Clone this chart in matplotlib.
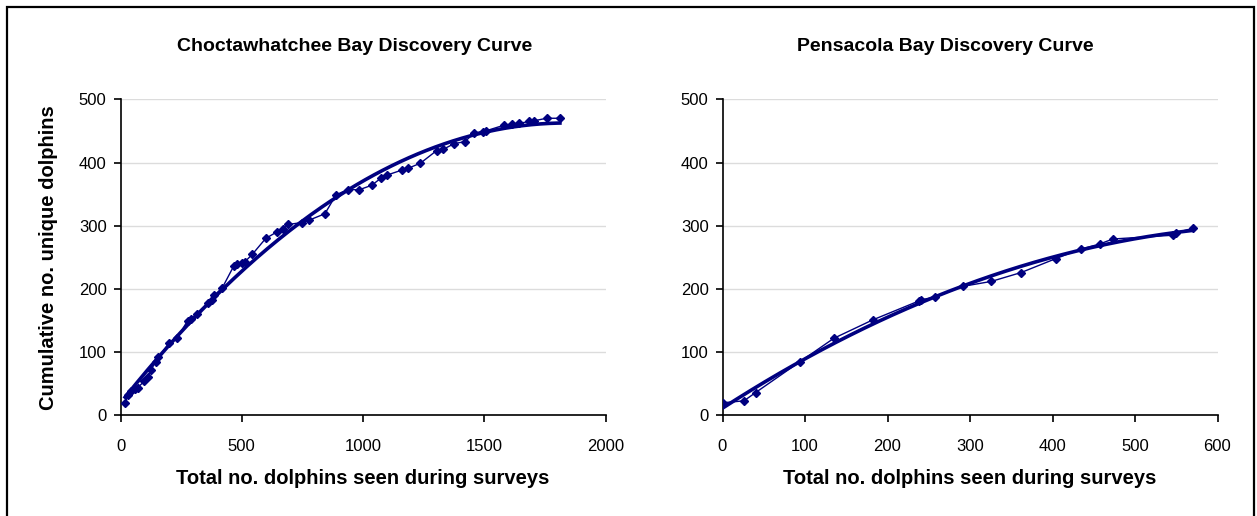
import matplotlib
matplotlib.use("Agg")
import matplotlib.pyplot as plt
import numpy as np
from matplotlib.patches import Rectangle

plt.rcParams['font.family'] = ['Liberation Sans', 'DejaVu Sans']

# Choctawhatchee Bay: total seen vs cumulative unique
choc_x = [19, 32, 45, 60, 71, 98, 115, 126, 145, 156, 200, 233, 277, 291, 314,
          360, 376, 387, 420, 468, 479, 500, 513, 544, 599, 644, 671, 692, 747,
          779, 843, 889, 937, 985, 1036, 1073, 1098, 1160, 1187, 1237, 1304,
          1331, 1377, 1421, 1458, 1496, 1506, 1581, 1616, 1645, 1686, 1705,
          1757, 1812]
choc_y = [20, 33, 38, 42, 44, 54, 61, 72, 85, 92, 114, 122, 150, 153, 161,
          178, 182, 190, 202, 237, 239, 241, 243, 255, 280, 290, 295, 302, 305,
          309, 319, 349, 357, 357, 364, 375, 380, 388, 391, 399, 419,
          421, 430, 433, 447, 449, 450, 459, 461, 462, 465, 466,
          470, 470]

# Pensacola Bay
pens_x = [0, 26, 40, 94, 135, 182, 238, 241, 257, 291, 326, 362, 404, 434,
          457, 473, 546, 550, 570]
pens_y = [20, 23, 36, 85, 122, 151, 181, 183, 187, 204, 212, 226, 248, 263,
          271, 279, 285, 289, 296]

titles = ["Choctawhatchee Bay Discovery Curve", "Pensacola Bay Discovery Curve"]
xlabel = "Total no. dolphins seen during surveys"
ylabel = "Cumulative no. unique dolphins"
navy = "#000080"

W, H = 1257, 516
fig = plt.figure(figsize=(W / 100, H / 100), dpi=100)

def px_axes(x0, x1, y_top, y_bot):
    return fig.add_axes([x0 / W, 1 - y_bot / H, (x1 - x0) / W, (y_bot - y_top) / H])

ax1 = px_axes(120.5, 605.5, 99.3, 415.4)
ax2 = px_axes(722.5, 1217.5, 99.3, 415.4)

panels = [(ax1, choc_x, choc_y, 2000, 500), (ax2, pens_x, pens_y, 600, 100)]
for ax, xs, ys, xmax, xstep in panels:
    xs = np.array(xs, float)
    ys = np.array(ys, float)
    # 2nd order polynomial trendline
    coef = np.polyfit(xs, ys, 2)
    xt = np.linspace(xs.min(), xs.max(), 200)
    ax.plot(xt, np.polyval(coef, xt), color=navy, lw=2.6, zorder=3)
    ax.plot(xs, ys, color=navy, lw=1.0, marker='D', ms=4.5, zorder=4)
    ax.set_xlim(0, xmax)
    ax.set_ylim(0, 500)
    ax.set_xticks(np.arange(0, xmax + 1, xstep))
    ax.set_yticks(np.arange(0, 501, 100))
    ax.grid(axis='y', color='#dcdcdc', lw=1.0)
    ax.set_axisbelow(True)
    for s in ['top', 'right']:
        ax.spines[s].set_visible(False)
    for s in ['left', 'bottom']:
        ax.spines[s].set_linewidth(1.2)
    ax.tick_params(axis='x', direction='out', length=5, width=1.2, pad=12, labelsize=12)
    ax.tick_params(axis='y', direction='out', length=5, width=1.2, pad=5, labelsize=12)
    ax.set_xlabel(xlabel, fontsize=14.5, fontweight='bold', labelpad=11)

ax1.set_ylabel(ylabel, fontsize=14.5, fontweight='bold', labelpad=15)

fig.text(355 / W, 1 - 47 / H, titles[0], ha='center', va='center', fontsize=14, fontweight='bold')
fig.text(945 / W, 1 - 47 / H, titles[1], ha='center', va='center', fontsize=14, fontweight='bold')

fig.add_artist(Rectangle((7 / W, -0.05), (1254 - 7) / W, 1 - 7 / H + 0.05,
                         transform=fig.transFigure, fill=False, ec='black', lw=1.6))

fig.savefig("out.png", dpi=100)
